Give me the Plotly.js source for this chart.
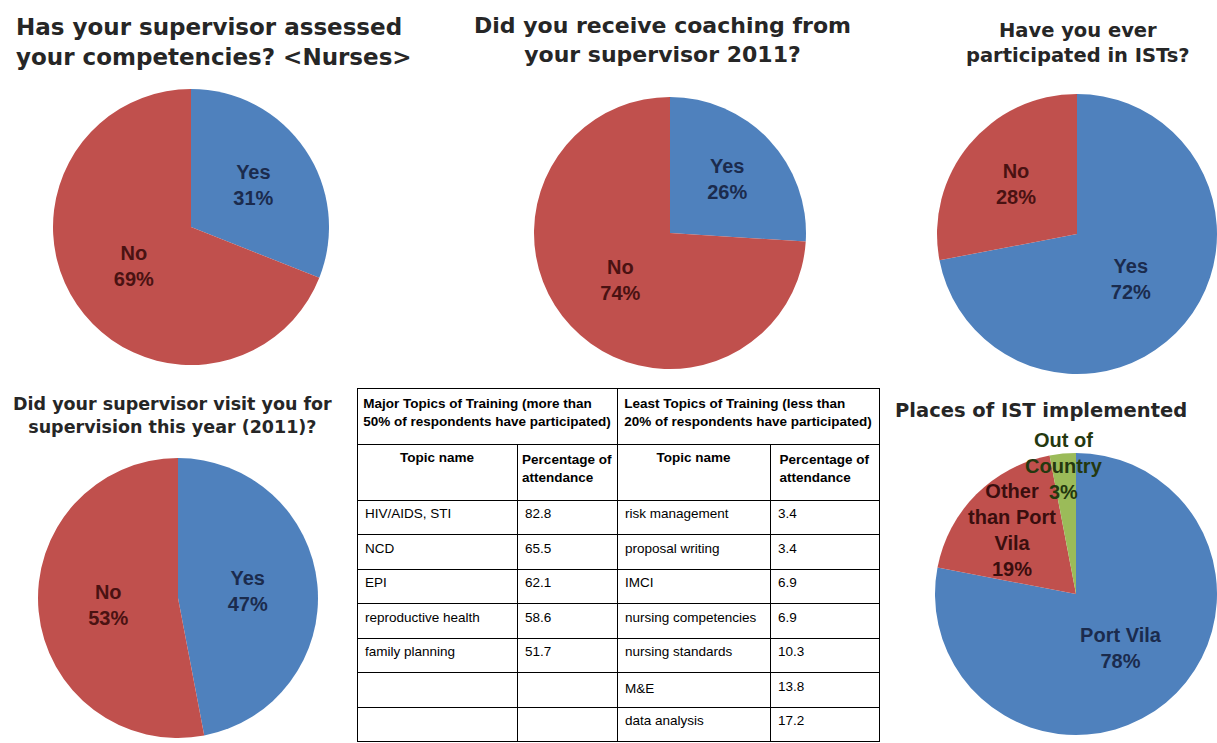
<!DOCTYPE html>
<html>
<head>
<meta charset="utf-8">
<script src="https://cdn.plot.ly/plotly-3.0.1.min.js"></script>
<style>html,body{margin:0;padding:0;background:#fff;}#chart{width:1217px;height:743px;}</style>
</head>
<body>
<div id="chart"></div>
<script>
// ---- data ----
const pie1Title = "Has your supervisor assessed<br>your competencies? &lt;Nurses&gt;";
const pie1Labels = ["Yes", "No"];
const pie1Values = [31, 69];

const pie2Title = "Did you receive coaching from<br>your supervisor 2011?";
const pie2Labels = ["Yes", "No"];
const pie2Values = [26, 74];

const pie3Title = "Have you ever<br>participated in ISTs?";
const pie3Labels = ["Yes", "No"];
const pie3Values = [72, 28];

const pie4Title = "Did your supervisor visit you for<br>supervision this year (2011)?";
const pie4Labels = ["Yes", "No"];
const pie4Values = [47, 53];

const pie5Title = "Places of IST implemented";
const pie5Labels = ["Port Vila", "Other<br>than Port<br>Vila", "Out of<br>Country"];
const pie5Values = [78, 19, 3];

const tableGroupHeaders = ["Major Topics of Training (more than<br>50% of respondents have participated)",
                           "Least Topics of Training (less than<br>20% of respondents have participated)"];
const tableColHeaders = ["Topic name", "Percentage of<br>attendance", "Topic name", "Percentage of<br>attendance"];
const majorTopics = ["HIV/AIDS, STI", "NCD", "EPI", "reproductive health", "family planning", "", ""];
const majorPct = ["82.8", "65.5", "62.1", "58.6", "51.7", "", ""];
const leastTopics = ["risk management", "proposal writing", "IMCI", "nursing competencies", "nursing standards", "M&E", "data analysis"];
const leastPct = ["3.4", "3.4", "6.9", "6.9", "10.3", "13.8", "17.2"];

// ---- style ----
const W = 1217, H = 743;
const BLUE = "#4F81BD", RED = "#C0504D", GREEN = "#9BBB59";
const NAVY = "#1B2B4D", MAROON = "#4A1212", DKGREEN = "#24380F";
const labelFont = "Liberation Sans, Arial, sans-serif";
const titleFont = "DejaVu Sans, Verdana, sans-serif";
const tableFont = "Liberation Sans, Arial, sans-serif";

function dom(cx, cy, r) {
  return {x: [(cx - r) / W, (cx + r) / W], y: [1 - (cy + r) / H, 1 - (cy - r) / H]};
}
function pie(labels, values, colors, textColors, domain) {
  return {
    type: "pie", labels: labels, values: values, sort: false, direction: "clockwise", rotation: 0,
    domain: domain, marker: {colors: colors, line: {width: 0}},
    texttemplate: "%{label}<br>%{percent}", textposition: "inside", insidetextorientation: "horizontal",
    insidetextfont: {family: labelFont, size: 20, weight: "bold", color: textColors},
    hoverinfo: "none", showlegend: false
  };
}

const tableLine = {color: "#000", width: 1};
const data = [
  pie(pie1Labels, pie1Values, [BLUE, RED], [NAVY, MAROON], dom(191, 227, 138)),
  pie(pie2Labels, pie2Values, [BLUE, RED], [NAVY, MAROON], dom(670, 233, 136)),
  pie(pie3Labels, pie3Values, [BLUE, RED], [NAVY, MAROON], dom(1077, 234, 140)),
  pie(pie4Labels, pie4Values, [BLUE, RED], [NAVY, MAROON], dom(178, 598, 140)),
  pie(pie5Labels, pie5Values, [BLUE, RED, GREEN], [NAVY, "#3A0E0E", DKGREEN], dom(1076, 594, 141)),
  {
    // group header row (spans two columns each); its blank cell row is covered by the main table below
    type: "table",
    domain: {x: [357 / W, 879 / W], y: [1 - (388 + 56 + 24) / H, 1 - 388 / H]},
    columnwidth: [260, 262],
    header: {values: tableGroupHeaders, height: 56, align: "center", line: tableLine, fill: {color: "#fff"},
             font: {family: tableFont, size: 13.5, weight: "bold", color: "#000"}},
    cells: {values: [[""], [""]], height: 20, line: tableLine, fill: {color: "#fff"},
            font: {family: tableFont, size: 13, color: "#000"}}
  },
  {
    type: "table",
    domain: {x: [357 / W, 879 / W], y: [0, 1 - 444 / H]},
    columnwidth: [160, 100, 153, 109],
    header: {values: tableColHeaders, height: 56, align: "center", line: tableLine, fill: {color: "#fff"},
             font: {family: tableFont, size: 13.5, weight: "bold", color: "#000"}},
    cells: {values: [majorTopics, majorPct, leastTopics, leastPct], height: 34.5, align: "left",
            line: tableLine, fill: {color: "#fff"},
            font: {family: tableFont, size: 13.5, color: "#000"}}
  }
];

function title(text, x, y, size, xanchor) {
  return {text: text, xref: "paper", yref: "paper", x: x / W, y: 1 - y / H,
          xanchor: xanchor, yanchor: "middle", align: xanchor === "left" ? "left" : "center",
          showarrow: false, font: {family: titleFont, size: size, weight: "bold", color: "#262626"}};
}

const layout = {
  width: W, height: H, margin: {l: 0, r: 0, t: 0, b: 0},
  paper_bgcolor: "#fff", plot_bgcolor: "#fff", showlegend: false,
  uniformtext: {mode: "show", minsize: 20},
  annotations: [
    title(pie1Title, 14, 42, 23, "left"),
    title(pie2Title, 662, 40, 22, "center"),
    title(pie3Title, 1078, 43, 19.5, "center"),
    title(pie4Title, 172, 416, 17.5, "center"),
    title(pie5Title, 893, 410, 19.5, "left")
  ]
};

Plotly.newPlot("chart", data, layout, {displayModeBar: false, staticPlot: true});
</script>
</body>
</html>
